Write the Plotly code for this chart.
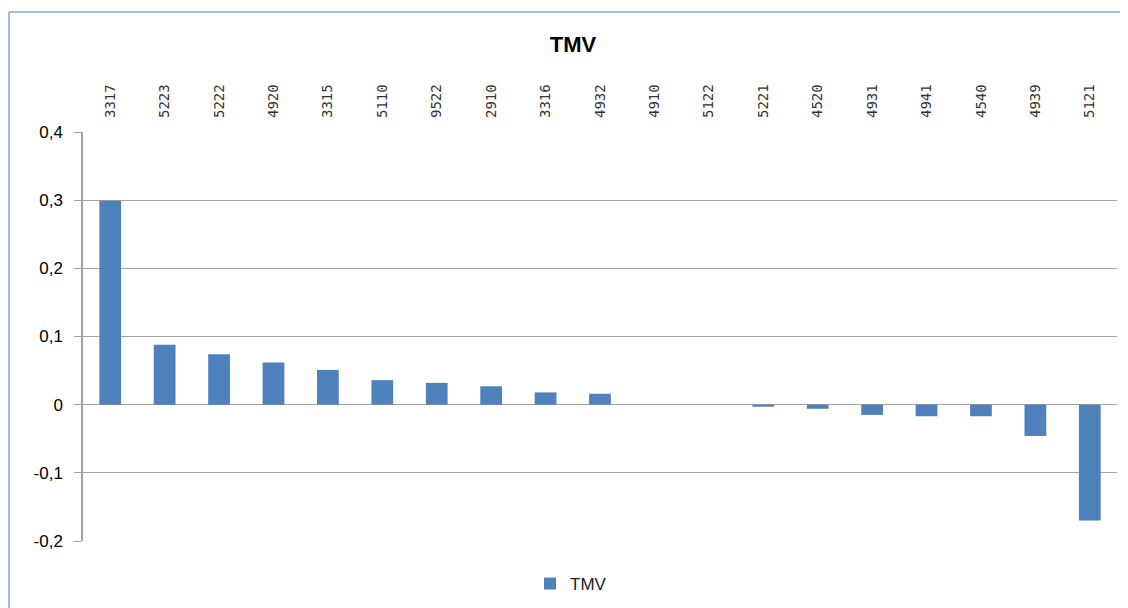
import plotly.graph_objects as go

categories = ["3317", "5223", "5222", "4920", "3315", "5110", "9522", "2910", "3316", "4932",
              "4910", "5122", "5221", "4520", "4931", "4941", "4540", "4939", "5121"]
tmv_values = [0.299, 0.088, 0.074, 0.062, 0.051, 0.036, 0.032, 0.027, 0.018, 0.016,
              0.0, 0.0, -0.003, -0.006, -0.015, -0.017, -0.017, -0.046, -0.170]
y_tick_vals = [0.4, 0.3, 0.2, 0.1, 0.0, -0.1, -0.2]
y_tick_text = ["0,4", "0,3", "0,2", "0,1", "0", "-0,1", "-0,2"]
series_name = "TMV"
chart_title = "TMV"

# page body has an 8px margin, so the figure is drawn 8px in from the window edge
W, H = 1120, 600
ml, mr, mt, mb = 75, 11, 124, 67
pw, ph = W - ml - mr, H - mt - mb
ymin, ymax = -0.2, 0.4
grid = "#a3a3a3"
bar_color = "#4f81bd"
border = "#7fa4d6"
base_font = "Liberation Sans, Arial, sans-serif"

n = len(categories)
fig = go.Figure()
fig.add_trace(go.Bar(x=categories, y=tmv_values, name=series_name,
                     marker=dict(color=bar_color, line=dict(width=0)),
                     showlegend=True))

zero_pos = (0 - ymin) / (ymax - ymin)


def px_x(p):
    return (p - ml) / pw


def px_y(p):
    return (mt + ph - p) / ph


fig.update_layout(
    width=W, height=H,
    margin=dict(l=ml, r=mr, t=mt, b=mb),
    paper_bgcolor="white", plot_bgcolor="white",
    bargap=0.6,
    separators=",.",
    font=dict(family=base_font, color="#000000"),
    title=dict(text="<b>" + chart_title + "</b>", x=565 / W, xref="container", xanchor="center",
               y=1 - 36 / H, yref="container", yanchor="middle",
               font=dict(size=22, family=base_font, color="#000")),
    xaxis=dict(side="top", type="category", showline=False, showgrid=False, ticks="",
               tickangle=-90, tickfont=dict(size=14, family="DejaVu Sans Mono, monospace", color="#333"),
               ticklabelstandoff=13, range=[-0.5, n - 0.5], fixedrange=True),
    xaxis2=dict(overlaying="x", anchor="free", position=zero_pos, side="bottom",
                range=[-0.5, n - 0.5], tickvals=[i + 0.5 for i in range(n)],
                ticks="outside", ticklen=7, tickcolor=grid, tickwidth=1.3,
                showticklabels=False, showline=True, linecolor=grid, linewidth=1.5,
                showgrid=False, zeroline=False),
    yaxis=dict(range=[ymin, ymax], tickvals=y_tick_vals, ticktext=y_tick_text,
               showgrid=True, gridcolor=grid, gridwidth=1.3, zeroline=False,
               showline=True, linecolor=grid, linewidth=1.5, ticks="outside", ticklen=7,
               tickcolor=grid, tickwidth=1.3, ticklabelstandoff=8,
               tickfont=dict(size=17, color="#000")),
    legend=dict(orientation="h", xref="container", x=522 / W, xanchor="left",
                yref="container", y=1 - 576 / H, yanchor="middle",
                font=dict(size=17, color="#222"), itemwidth=30),
    shapes=[
        dict(type="line", xref="paper", yref="paper",
             x0=px_x(1), x1=px_x(W + 40), y0=px_y(4), y1=px_y(4),
             line=dict(color=border, width=1.5), layer="below"),
        dict(type="line", xref="paper", yref="paper",
             x0=px_x(1), x1=px_x(1), y0=px_y(4), y1=px_y(H + 40),
             line=dict(color=border, width=1.5), layer="below"),
    ],
)

fig.write_html("out.html", post_script="document.body.style.overflow='hidden';")
